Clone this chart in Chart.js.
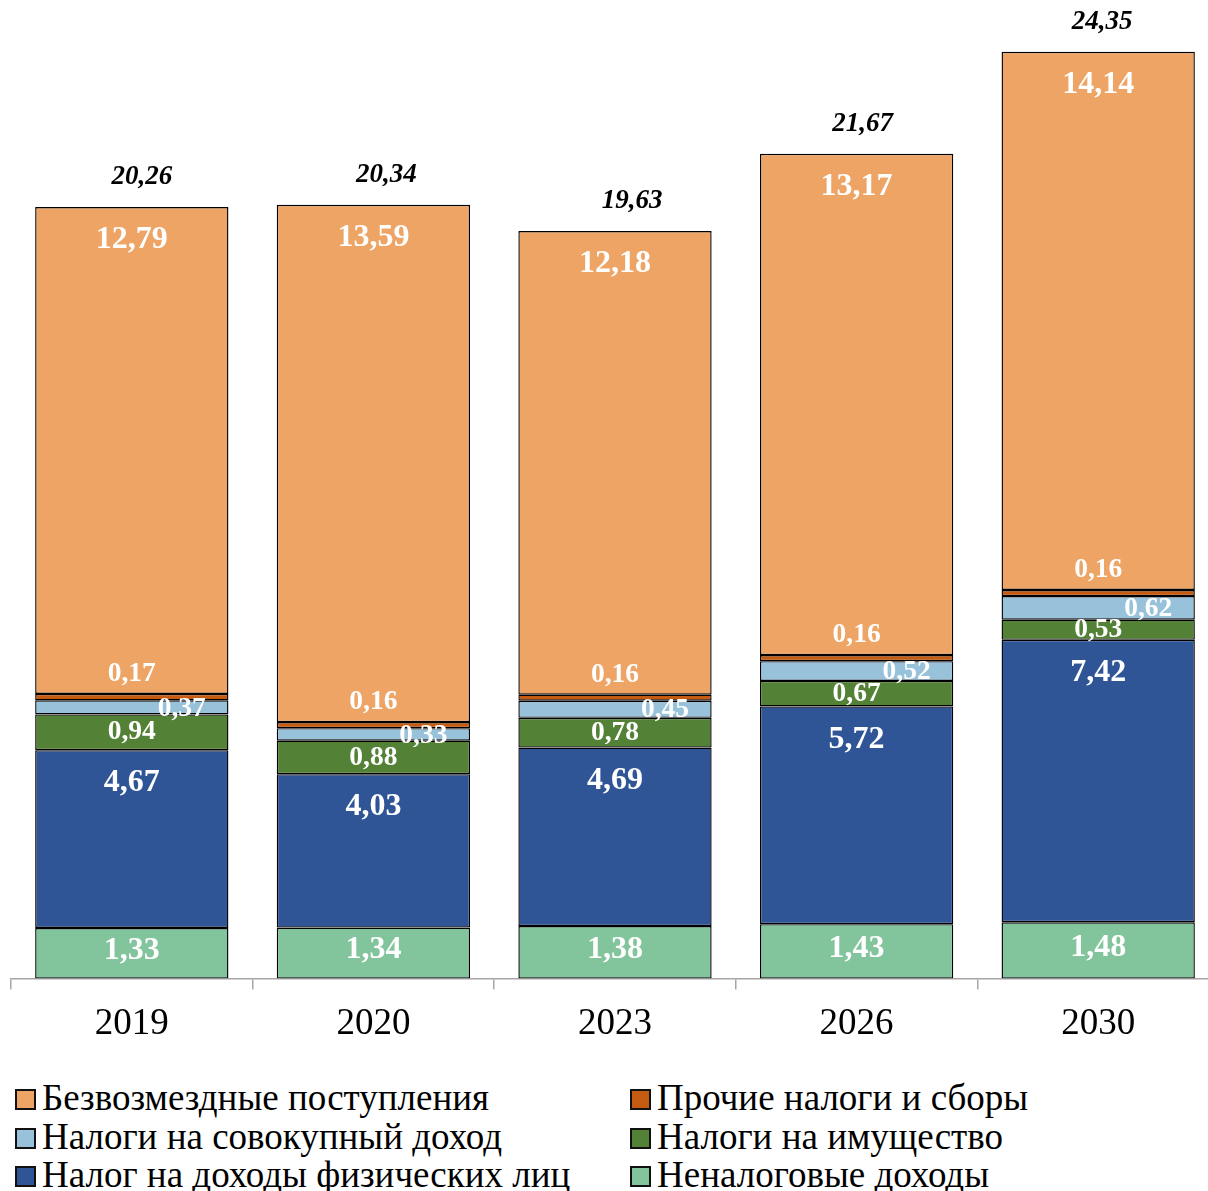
<!DOCTYPE html>
<html lang="ru">
<head>
  <meta charset="UTF-8">
  <title>Структура доходов</title>
  <script src="https://cdn.jsdelivr.net/npm/chart.js"></script>
  <style>
    html, body {
      margin: 0;
      padding: 0;
      background: #fff;
      overflow: hidden;
    }
    #wrap {
      position: relative;
      width: 1208px;
      height: 1191px;
      overflow: hidden;
    }
    #chart {
      position: absolute;
      left: 0;
      top: 0;
    }
    .legend-item {
      position: absolute;
      font-family: 'Liberation Serif', 'Times New Roman', serif;
      font-size: 37px;
      line-height: 38px;
      color: #000;
      white-space: nowrap;
    }
    .legend-item span {
      display: inline-block;
      width: 17px;
      height: 17px;
      border: 2px solid #111;
      margin-right: 6px;
      vertical-align: 0px;
    }
  </style>
</head>
<body>

<div id="wrap">
  <canvas id="chart" width="1220" height="1060"></canvas>
  <div id="legend"></div>
</div>

<script>
// годы
const years = ['2019', '2020', '2023', '2026', '2030'];

// значения по статьям, млрд руб.
const nonTax      = [1.33, 1.34, 1.38, 1.43, 1.48];   // Неналоговые доходы
const personalTax = [4.67, 4.03, 4.69, 5.72, 7.42];   // НДФЛ
const propertyTax = [0.94, 0.88, 0.78, 0.67, 0.53];   // Налоги на имущество
const incomeTax   = [0.37, 0.33, 0.45, 0.52, 0.62];   // Налоги на совокупный доход
const otherTax    = [0.17, 0.16, 0.16, 0.16, 0.16];   // Прочие налоги и сборы
const transfers   = [12.79, 13.59, 12.18, 13.17, 14.14]; // Безвозмездные поступления

// итоги над столбцами
const totals = [20.26, 20.34, 19.63, 21.67, 24.35];

// сдвиг подписей итогов (как в исходнике)
const totalDx = [10, 13, 17, 6, 4];

const SERIF = "'Liberation Serif', 'Times New Roman', serif";

const datasets = [
  { label: 'Неналоговые доходы', data: nonTax, backgroundColor: '#82C49C', labelSize: 32, labelDy: -3 },
  { label: 'Налог на доходы физических лиц', data: personalTax, backgroundColor: '#2F5597', labelSize: 32, labelTop: 33 },
  { label: 'Налоги на имущество', data: propertyTax, backgroundColor: '#538135', labelSize: 27.5 },
  { label: 'Налоги на совокупный доход', data: incomeTax, backgroundColor: '#98C1DA', labelSize: 27.5, labelDx: 50, labelDy: 1 },
  { label: 'Прочие налоги и сборы', data: otherTax, backgroundColor: '#C55A11', labelSize: 27.5, labelDy: -23 },
  { label: 'Безвозмездные поступления', data: transfers, backgroundColor: '#EDA465', labelSize: 32, labelTop: 33 }
];
datasets.forEach(d => {
  d.borderColor = '#000';
  d.borderWidth = 1.4;
  d.borderSkipped = false;
  d.barPercentage = 0.8;
  d.categoryPercentage = 1.0;
});

function fmt(v) {
  return v.toFixed(2).replace('.', ',');
}

// подписи значений внутри сегментов и итоги
const valueLabels = {
  id: 'valueLabels',
  afterDatasetsDraw(chart) {
    const ctx = chart.ctx;
    ctx.save();
    ctx.textAlign = 'center';
    ctx.textBaseline = 'middle';
    chart.data.datasets.forEach((ds, i) => {
      const meta = chart.getDatasetMeta(i);
      meta.data.forEach((bar, j) => {
        let y = (bar.y + bar.base) / 2;
        if (ds.labelTop) y = bar.y + ds.labelTop;
        y += ds.labelDy || 0;
        const x = bar.x + (ds.labelDx || 0);
        ctx.font = 'bold ' + ds.labelSize + 'px ' + SERIF;
        ctx.fillStyle = '#fff';
        ctx.fillText(fmt(ds.data[j]), x, y);
      });
    });
    // итоги
    const last = chart.getDatasetMeta(chart.data.datasets.length - 1);
    ctx.font = 'italic bold 27px ' + SERIF;
    ctx.fillStyle = '#000';
    last.data.forEach((bar, j) => {
      ctx.fillText(fmt(totals[j]), bar.x + totalDx[j], bar.y - 30);
    });
    ctx.restore();
  }
};

new Chart(document.getElementById('chart'), {
  type: 'bar',
  data: { labels: years, datasets: datasets },
  options: {
    responsive: false,
    animation: false,
    devicePixelRatio: 1,
    layout: { padding: { top: 8, left: 11, right: 1, bottom: 2 } },
    plugins: {
      legend: { display: false },
      tooltip: { enabled: false }
    },
    scales: {
      x: {
        stacked: true,
        grid: {
          display: true,
          offset: true,
          drawOnChartArea: false,
          drawTicks: true,
          tickLength: 11,
          color: '#a6a6a6',
          lineWidth: 1.5
        },
        border: { display: true, color: '#a6a6a6', width: 1.5 },
        ticks: {
          color: '#000',
          padding: 12,
          font: { family: SERIF, size: 37 }
        }
      },
      y: {
        stacked: true,
        display: false,
        min: 0,
        max: 25.5
      }
    }
  },
  plugins: [valueLabels]
});

// легенда в два столбца, как в исходнике
const legendOrder = [
  { name: 'Безвозмездные поступления', color: '#EDA465', x: 15, row: 0 },
  { name: 'Прочие налоги и сборы', color: '#C55A11', x: 630, row: 0 },
  { name: 'Налоги на совокупный доход', color: '#98C1DA', x: 15, row: 1 },
  { name: 'Налоги на имущество', color: '#538135', x: 630, row: 1 },
  { name: 'Налог на доходы физических лиц', color: '#2F5597', x: 15, row: 2 },
  { name: 'Неналоговые доходы', color: '#82C49C', x: 630, row: 2 }
];
const legend = document.getElementById('legend');
legendOrder.forEach(item => {
  const div = document.createElement('div');
  div.className = 'legend-item';
  div.style.left = item.x + 'px';
  div.style.top = (1079 + item.row * 38.5) + 'px';
  div.innerHTML = `<span style="background:${item.color}"></span>${item.name}`;
  legend.appendChild(div);
});
</script>

</body>
</html>
